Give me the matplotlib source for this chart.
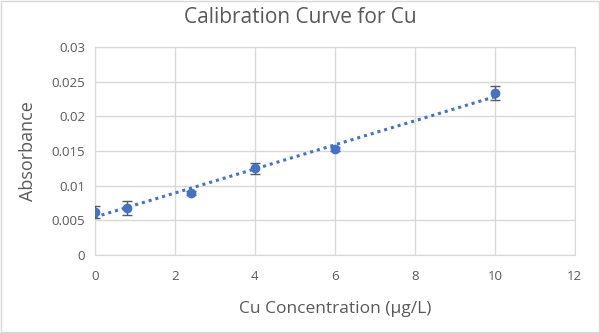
import numpy as np
import matplotlib.pyplot as plt

conc = [0, 0.8, 2.4, 4, 6, 10]
absorb = [0.0062, 0.0068, 0.0090, 0.0125, 0.0153, 0.0233]
err = [0.0009, 0.0010, 0.0003, 0.0008, 0.0003, 0.0010]

plt.rcParams['font.family'] = ['Open Sans', 'DejaVu Sans']
grey = '#595959'

fig = plt.figure(figsize=(6, 3.33), dpi=100)
ax = fig.add_axes([0.158, 0.234, 0.8, 0.625])

# linear trendline over the measured range
slope, icpt = np.polyfit(conc, absorb, 1)
xs = np.array([min(conc), max(conc)])
ax.plot(xs, slope * xs + icpt, linestyle=(0, (1, 1.3)), color='#4472C4', lw=2.2, zorder=2)

ax.errorbar(conc, absorb, yerr=err, fmt='o', color='#4472C4', markersize=6,
            ecolor=grey, elinewidth=1, capsize=3.5, capthick=1, zorder=3)

ax.set_xlim(0, 12)
ax.set_ylim(0, 0.03)
ax.set_xticks(range(0, 13, 2))
ax.set_yticks([0, 0.005, 0.01, 0.015, 0.02, 0.025, 0.03])
ax.set_yticklabels(['0', '0.005', '0.01', '0.015', '0.02', '0.025', '0.03'])
ax.grid(True, color='#d9d9d9', lw=1)
ax.set_axisbelow(True)
for s in ax.spines.values():
    s.set_color('#d9d9d9')
ax.tick_params(length=0, labelsize=9.5, colors=grey)
ax.tick_params(axis='x', pad=11)
ax.tick_params(axis='y', pad=7)

fig.text(0.5, 0.948, 'Calibration Curve for Cu', fontsize=15, color=grey,
         ha='center', va='center')
ax.set_xlabel('Cu Concentration (µg/L)', fontsize=12.5, color=grey, labelpad=13)
ax.set_ylabel('Absorbance', fontsize=13, color=grey, labelpad=10)

fig.patches.append(plt.Rectangle((0.001, 0.002), 0.997, 0.995, transform=fig.transFigure,
                                 fill=False, edgecolor='#d9d9d9', lw=1))

fig.savefig('out.png', dpi=100)
